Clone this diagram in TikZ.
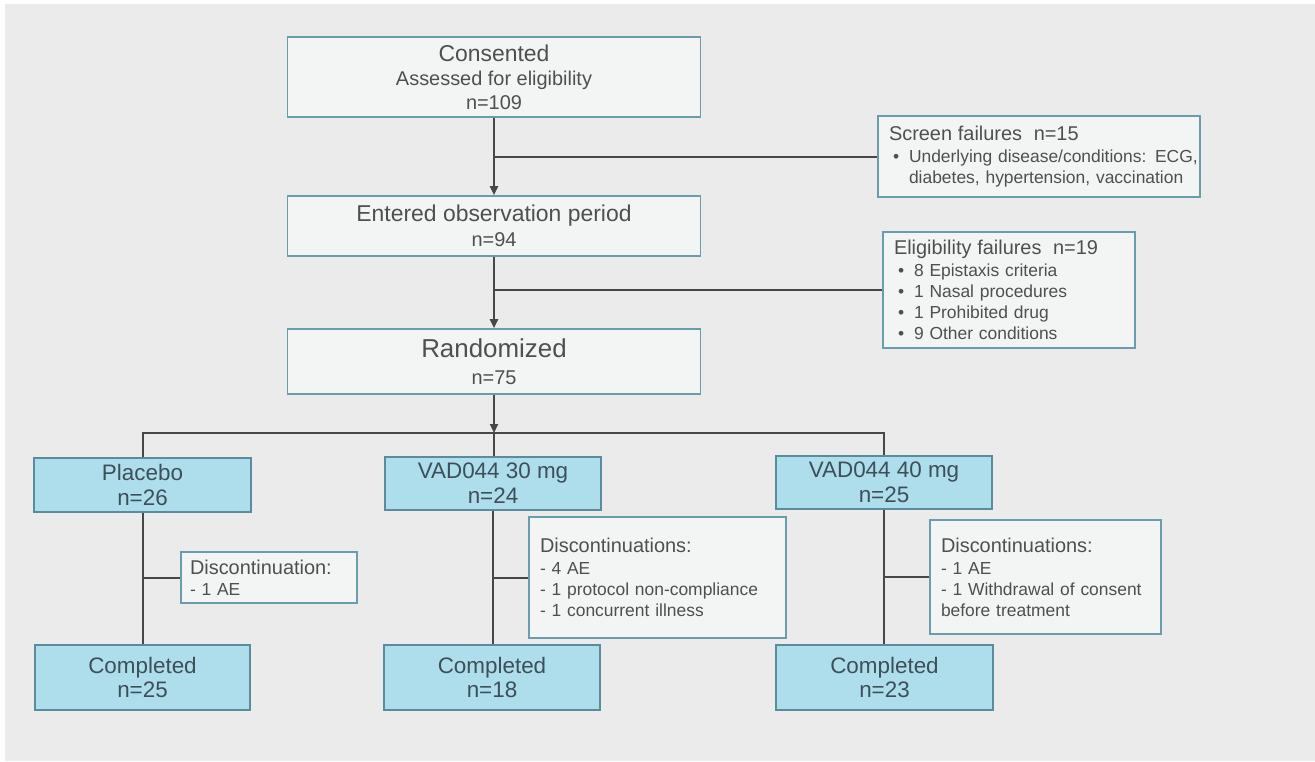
\documentclass[tikz,border=0pt]{standalone}
\usepackage{fontspec}
\setmainfont{Liberation Sans}
\usetikzlibrary{arrows.meta}
\definecolor{bgcol}{HTML}{EBEBEB}
\definecolor{mainfill}{HTML}{F3F4F4}
\definecolor{bordercol}{HTML}{6A9CAD}
\definecolor{armfill}{HTML}{AEDDEC}
\definecolor{armborder}{HTML}{5A8C9E}
\definecolor{txt}{HTML}{4F4F4F}
\definecolor{armtxt}{HTML}{3D4F59}
\definecolor{linecol}{HTML}{474747}
\newcommand\myfs[2]{\fontsize{#1}{#2}\selectfont}
\newcommand\bul{\makebox[20bp][l]{\hspace{4bp}\textbullet}}
\begin{document}
\begin{tikzpicture}[x=1bp,y=-1bp,
  conn/.style={draw=linecol, line width=2bp},
  arr/.style={conn, -{Triangle[length=9bp,width=8bp]}},
  mainbox/.style={draw=bordercol, line width=1.6bp, fill=mainfill, text=txt, align=center, inner sep=0pt},
  sidebox/.style={draw=bordercol, line width=1.6bp, fill=mainfill, text=txt, align=left, inner xsep=11bp, inner ysep=0pt, font=\myfs{17.5}{21}},
  armbox/.style={draw=armborder, line width=1.6bp, fill=armfill, text=armtxt, align=center, inner sep=0pt, font=\myfs{22.5}{25}}
]
\useasboundingbox (0,0) rectangle (1315,761);
\fill[white] (0,0) rectangle (1315,761);
\fill[bgcol] (5,4) rectangle (1315,761);

% main column
\node[mainbox, minimum width=413bp, minimum height=80bp, font=\myfs{20}{24}] (cons) at (494,77)
  {{\myfs{23}{25}Consented}\\Assessed for eligibility\\n=109};
\node[mainbox, minimum width=413bp, minimum height=60bp, font=\myfs{20}{25}] (entered) at (494,226)
  {{\myfs{23}{25}Entered observation period}\\n=94};
\node[mainbox, minimum width=413bp, minimum height=65bp, font=\myfs{20}{27}] (rand) at (494,361.5)
  {{\myfs{26}{27}Randomized}\\n=75};

% side boxes
\node[sidebox, minimum width=322bp, minimum height=81bp, text width=300bp] (screen) at (1039,156.5)
  {{\myfs{20}{22}Screen failures\ \ n=15}\\[1bp]
   \mbox{\bul Underlying disease/conditions: ECG,}\\
   \mbox{\hspace*{20bp}diabetes, hypertension, vaccination}};
\node[sidebox, minimum width=252bp, minimum height=116bp, text width=230bp] (elig) at (1009,290)
  {{\myfs{20}{22}Eligibility failures\ \ n=19}\\[1bp]
   \bul 8 Epistaxis criteria\\
   \bul 1 Nasal procedures\\
   \bul 1 Prohibited drug\\
   \bul 9 Other conditions};

% arms
\node[armbox, minimum width=217bp, minimum height=54bp] (placebo) at (142.5,485) {Placebo\\n=26};
\node[armbox, minimum width=216bp, minimum height=53bp] (v30) at (493,483.5) {VAD044 30 mg\\n=24};
\node[armbox, minimum width=216bp, minimum height=53bp] (v40) at (884,482.5) {VAD044 40 mg\\n=25};

% discontinuations
\node[sidebox, inner xsep=9bp, minimum width=176bp, minimum height=51bp, text width=158bp] (dp) at (269,577.5)
  {{\myfs{20}{22}Discontinuation:}\\- 1 AE};
\node[sidebox, inner xsep=11bp, minimum width=257bp, minimum height=121bp, text width=235bp] (d30) at (657.5,577.5)
  {{\myfs{20}{22}Discontinuations:}\\[1bp]- 4 AE\\- 1 protocol non-compliance\\- 1 concurrent illness};
\node[sidebox, inner xsep=11bp, minimum width=231bp, minimum height=114bp, text width=209bp] (d40) at (1045.5,577)
  {{\myfs{20}{22}Discontinuations:}\\[1bp]- 1 AE\\- 1 Withdrawal of consent\\before treatment};

% completed
\node[armbox, minimum width=215bp, minimum height=65bp] (cp) at (142.5,677.5) {Completed\\n=25};
\node[armbox, minimum width=216bp, minimum height=65bp] (c30) at (492,677.5) {Completed\\n=18};
\node[armbox, minimum width=217bp, minimum height=65bp] (c40) at (884.5,677.5) {Completed\\n=23};

% connectors
\draw[arr] (cons.south) -- (entered.north);
\draw[conn] (cons.south |- screen.west) -- (screen.west);
\draw[arr] (entered.south) -- (rand.north);
\draw[conn] (entered.south |- elig.west) -- (elig.west);
\coordinate (bar) at (494,433);
\draw[arr] (rand.south) -- (bar);
\draw[conn] (placebo.north) |- (bar) -| (v40.north);
\draw[conn] (bar) -- (bar |- v30.north);
\draw[conn] (placebo.south) -- (cp.north);
\draw[conn] (placebo.south |- dp.west) -- (dp.west);
\draw[conn] (v30.south) -- (v30.south |- c30.north);
\draw[conn] (v30.south |- d30.west) -- (d30.west);
\draw[conn] (v40.south) -- (v40.south |- c40.north);
\draw[conn] (v40.south |- d40.west) -- (d40.west);
\end{tikzpicture}
\end{document}
